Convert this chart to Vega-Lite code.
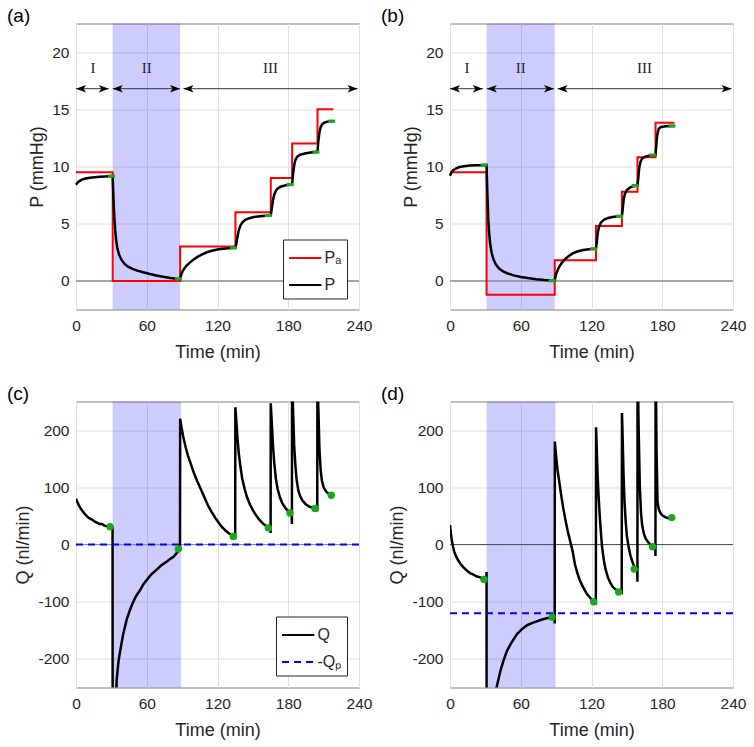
{
 "$schema": "https://vega.github.io/schema/vega-lite/v6.json",
 "background": "white",
 "padding": {"left": 6, "top": 6.5, "right": 2, "bottom": 2},
 "columns": 2,
 "spacing": {"row": 92, "column": 91},
 "bounds": "flush",
 "resolve": {"scale": {"color": "independent", "strokeDash": "independent", "shape": "independent"}, "legend": {"color": "independent", "strokeDash": "independent"}},
 "config": {
  "font": "Liberation Sans",
  "view": {"stroke": "#808080", "strokeWidth": 1},
  "axis": {"domain": false, "ticks": false, "grid": true, "gridColor": "#e0e0e0", "gridWidth": 1, "labelFont": "Liberation Sans", "labelFontSize": 15.5, "labelColor": "#262626", "labelFlush": false, "labelOverlap": false, "titleFont": "Liberation Sans", "titleFontSize": 18, "titleFontWeight": "normal", "titleColor": "#262626"},
  "axisX": {"labelPadding": 9, "titlePadding": 9},
  "axisY": {"labelPadding": 7, "titlePadding": 5},
  "title": {"anchor": "start", "frame": "group", "dx": -69, "offset": -2.5, "fontSize": 19, "fontWeight": "normal", "font": "Liberation Sans", "color": "#000000"},
  "legend": {"orient": "none", "title": null, "symbolType": "M-1,0L1.6,0", "symbolSize": 620, "symbolStrokeWidth": 2, "labelFontSize": 16, "labelFont": "Liberation Sans", "labelColor": "#262626", "strokeColor": "#262626", "fillColor": "white", "padding": 5, "rowPadding": 5, "labelOffset": 9.5}
 },
 "datasets": {
  "paA": [{"t":0,"v":9.5},{"t":31.1,"v":0},{"t":88.3,"v":3},{"t":135.2,"v":6},{"t":165.2,"v":9},{"t":183.3,"v":12},{"t":204.8,"v":15},{"t":218.3,"v":15}],
  "pA": [{"t":0,"v":8.4},{"t":1,"v":8.55},{"t":2.5,"v":8.7},{"t":5,"v":8.85},{"t":8,"v":8.95},{"t":12,"v":9.02},{"t":16,"v":9.06},{"t":20,"v":9.1},{"t":25,"v":9.13},{"t":30,"v":9.16},{"t":31.1,"v":9.15},
   {"t":31.5,"v":8.0},{"t":32,"v":6.6},{"t":32.6,"v":5.4},{"t":33.2,"v":4.5},{"t":34,"v":3.6},{"t":35,"v":2.9},{"t":36.5,"v":2.3},{"t":38.5,"v":1.85},{"t":41,"v":1.5},{"t":44,"v":1.25},{"t":48,"v":1.05},{"t":52,"v":0.9},{"t":57,"v":0.75},{"t":62,"v":0.62},{"t":68,"v":0.48},{"t":74,"v":0.36},{"t":80,"v":0.26},{"t":85,"v":0.19},{"t":88.3,"v":0.15},
   {"t":88.8,"v":0.4},{"t":89.5,"v":0.62},{"t":90.5,"v":0.85},{"t":92,"v":1.1},{"t":94,"v":1.35},{"t":96.5,"v":1.6},{"t":99.5,"v":1.85},{"t":103,"v":2.1},{"t":107,"v":2.32},{"t":111,"v":2.5},{"t":116,"v":2.65},{"t":121,"v":2.76},{"t":127,"v":2.84},{"t":132,"v":2.88},{"t":135.2,"v":2.9},
   {"t":136,"v":3.3},{"t":137,"v":3.9},{"t":138,"v":4.4},{"t":139.5,"v":4.85},{"t":141,"v":5.1},{"t":143.5,"v":5.33},{"t":147,"v":5.48},{"t":151,"v":5.58},{"t":156,"v":5.65},{"t":161,"v":5.7},{"t":165.2,"v":5.73},
   {"t":166,"v":6.3},{"t":167,"v":7.0},{"t":168,"v":7.5},{"t":169.5,"v":7.88},{"t":171,"v":8.07},{"t":174,"v":8.25},{"t":178,"v":8.36},{"t":183.3,"v":8.43},
   {"t":184,"v":9.3},{"t":185,"v":10.1},{"t":186,"v":10.55},{"t":187.5,"v":10.85},{"t":190,"v":11.03},{"t":194,"v":11.14},{"t":199,"v":11.22},{"t":204.8,"v":11.28},
   {"t":205.5,"v":12.2},{"t":206.5,"v":13.0},{"t":207.5,"v":13.45},{"t":209,"v":13.72},{"t":211,"v":13.86},{"t":214,"v":13.93},{"t":218,"v":13.97}],
  "gA": [{"t":30.2,"v":9.16},{"t":86.8,"v":0.17},{"t":133.4,"v":2.89},{"t":163.1,"v":5.72},{"t":181.5,"v":8.42},{"t":203.5,"v":11.27},{"t":216.8,"v":13.96}],
  "paB": [{"t":0,"v":9.5},{"t":31,"v":-1.2},{"t":88.8,"v":1.8},{"t":123.8,"v":4.8},{"t":145.8,"v":7.8},{"t":159,"v":10.8},{"t":174.3,"v":13.83},{"t":190.4,"v":13.83}],
  "pB": [{"t":0,"v":9.2},{"t":1,"v":9.45},{"t":2.5,"v":9.65},{"t":5,"v":9.82},{"t":8,"v":9.95},{"t":12,"v":10.03},{"t":17,"v":10.08},{"t":22,"v":10.1},{"t":27,"v":10.12},{"t":31,"v":10.13},
   {"t":31.3,"v":9.0},{"t":31.8,"v":7.3},{"t":32.4,"v":5.6},{"t":33.1,"v":4.3},{"t":34,"v":3.3},{"t":35.2,"v":2.5},{"t":36.8,"v":1.9},{"t":38.8,"v":1.45},{"t":41.5,"v":1.1},{"t":45,"v":0.83},{"t":49,"v":0.65},{"t":54,"v":0.48},{"t":60,"v":0.35},{"t":66,"v":0.25},{"t":73,"v":0.15},{"t":80,"v":0.08},{"t":88.8,"v":0.02},
   {"t":89.3,"v":0.3},{"t":90.2,"v":0.65},{"t":91.5,"v":1.0},{"t":93,"v":1.3},{"t":95,"v":1.6},{"t":97.5,"v":1.9},{"t":100.5,"v":2.15},{"t":104,"v":2.4},{"t":108,"v":2.57},{"t":113,"v":2.7},{"t":118,"v":2.77},{"t":123.8,"v":2.82},
   {"t":124.5,"v":3.4},{"t":125.3,"v":4.2},{"t":126.3,"v":4.7},{"t":128,"v":5.1},{"t":130.5,"v":5.35},{"t":134,"v":5.5},{"t":139,"v":5.6},{"t":145.8,"v":5.66},
   {"t":146.5,"v":6.3},{"t":147.3,"v":7.1},{"t":148.3,"v":7.6},{"t":150,"v":7.95},{"t":152.5,"v":8.15},{"t":155.5,"v":8.28},{"t":159,"v":8.33},
   {"t":159.7,"v":9.0},{"t":160.5,"v":9.9},{"t":161.5,"v":10.4},{"t":163,"v":10.7},{"t":166,"v":10.88},{"t":170,"v":10.97},{"t":174.3,"v":11.0},
   {"t":175,"v":11.9},{"t":175.8,"v":12.8},{"t":177,"v":13.3},{"t":179,"v":13.45},{"t":183,"v":13.52},{"t":190.4,"v":13.55}],
  "gB": [{"t":28.8,"v":10.13},{"t":86.6,"v":0.02},{"t":121.8,"v":2.8},{"t":143.8,"v":5.65},{"t":157.1,"v":8.33},{"t":172,"v":11.0},{"t":188.2,"v":13.55}],
  "qC": [{"t":0,"v":80},{"t":1,"v":75},{"t":2.5,"v":68},{"t":4,"v":63},{"t":6,"v":57},{"t":8,"v":52},{"t":10,"v":48},{"t":12,"v":45},{"t":14,"v":43},{"t":16,"v":40},{"t":18,"v":38},{"t":20,"v":36},{"t":22,"v":36},{"t":24,"v":33},{"t":26,"v":32},{"t":28,"v":31},{"t":31,"v":30},
   {"t":31.15,"v":-700},{"t":33,"v":-330},{"t":34.5,"v":-237},{"t":36,"v":-205},{"t":37.3,"v":-188},{"t":40.1,"v":-156},{"t":43,"v":-131},{"t":46,"v":-113},{"t":48.6,"v":-100},{"t":51,"v":-90},{"t":54.3,"v":-80},{"t":57,"v":-70},{"t":60,"v":-62},{"t":64,"v":-52},{"t":68.4,"v":-44},{"t":72,"v":-37},{"t":76.9,"v":-30},{"t":80,"v":-25},{"t":82.5,"v":-22},{"t":85,"v":-16},{"t":88.2,"v":-8},
   {"t":88.35,"v":220},{"t":89.5,"v":205},{"t":91,"v":188},{"t":93,"v":170},{"t":95,"v":155},{"t":97,"v":143},{"t":100,"v":125},{"t":103,"v":110},{"t":106,"v":96},{"t":109,"v":82},{"t":112,"v":68},{"t":115,"v":57},{"t":118,"v":47},{"t":121,"v":38},{"t":124,"v":30},{"t":127,"v":24},{"t":130,"v":19},{"t":133,"v":15},{"t":135,"v":13},
   {"t":135.15,"v":240},{"t":136,"v":215},{"t":137,"v":185},{"t":138,"v":160},{"t":139.5,"v":135},{"t":141,"v":115},{"t":143,"v":97},{"t":145,"v":83},{"t":147.5,"v":70},{"t":150,"v":60},{"t":153,"v":50},{"t":156,"v":42},{"t":159,"v":36},{"t":162,"v":31},{"t":164.9,"v":28},{"t":165.05,"v":20},
   {"t":165.15,"v":247},{"t":166,"v":215},{"t":167,"v":175},{"t":168,"v":145},{"t":169.5,"v":115},{"t":171,"v":97},{"t":173,"v":82},{"t":175,"v":72},{"t":177.5,"v":64},{"t":180,"v":58},{"t":182.8,"v":55},{"t":183.1,"v":36},
   {"t":183.25,"v":330},{"t":184,"v":240},{"t":185,"v":175},{"t":186,"v":140},{"t":187,"v":115},{"t":188.5,"v":95},{"t":190,"v":85},{"t":192,"v":77},{"t":195,"v":70},{"t":198,"v":66},{"t":201,"v":64},{"t":204,"v":62},{"t":204.6,"v":58},
   {"t":204.75,"v":330},{"t":205.5,"v":240},{"t":206.5,"v":165},{"t":207.5,"v":130},{"t":208.5,"v":112},{"t":210,"v":100},{"t":212,"v":93},{"t":214,"v":89},{"t":216.8,"v":86}],
  "gC": [{"t":28.8,"v":31},{"t":86.8,"v":-8},{"t":133.4,"v":14},{"t":163.1,"v":29},{"t":181.5,"v":55},{"t":202.7,"v":63},{"t":216.5,"v":86}],
  "qD": [{"t":0,"v":34},{"t":0.7,"v":20},{"t":1.5,"v":8},{"t":2.5,"v":-3},{"t":3.5,"v":-12},{"t":5,"v":-20},{"t":7,"v":-28},{"t":9,"v":-34},{"t":11,"v":-39},{"t":13,"v":-43},{"t":15,"v":-47},{"t":17,"v":-50},{"t":19,"v":-52},{"t":21,"v":-54},{"t":23,"v":-56},{"t":25,"v":-57},{"t":27,"v":-59},{"t":29,"v":-61},{"t":30.9,"v":-62},
   {"t":31,"v":-48},{"t":31.1,"v":-700},{"t":35,"v":-400},{"t":39.5,"v":-250},{"t":42.9,"v":-220},{"t":45.5,"v":-202},{"t":48.5,"v":-185},{"t":52,"v":-172},{"t":57,"v":-156},{"t":61,"v":-148},{"t":65.4,"v":-141},{"t":70,"v":-137},{"t":76.7,"v":-132},{"t":82,"v":-129},{"t":86.6,"v":-127},{"t":88.7,"v":-126},
   {"t":88.8,"v":-138},{"t":88.9,"v":180},{"t":90,"v":155},{"t":91.2,"v":130},{"t":92.5,"v":112},{"t":94,"v":90},{"t":96,"v":64},{"t":98,"v":42},{"t":100,"v":22},{"t":102,"v":5},{"t":104,"v":-12},{"t":106,"v":-35},{"t":108,"v":-50},{"t":110,"v":-62},{"t":112,"v":-71},{"t":114,"v":-79},{"t":116,"v":-86},{"t":118,"v":-91},{"t":120,"v":-96},{"t":122,"v":-100},{"t":123.7,"v":-102},
   {"t":123.85,"v":205},{"t":124.5,"v":165},{"t":125.2,"v":120},{"t":126,"v":85},{"t":127,"v":50},{"t":128,"v":20},{"t":129,"v":-5},{"t":130.5,"v":-28},{"t":132,"v":-44},{"t":134,"v":-58},{"t":136,"v":-67},{"t":138,"v":-74},{"t":140,"v":-78},{"t":142,"v":-81},{"t":145.6,"v":-84},
   {"t":145.85,"v":230},{"t":146.5,"v":180},{"t":147.2,"v":120},{"t":148,"v":75},{"t":149,"v":40},{"t":150,"v":15},{"t":151.5,"v":-5},{"t":153,"v":-19},{"t":154.5,"v":-29},{"t":156.5,"v":-40},{"t":158.8,"v":-45},
   {"t":158.95,"v":-65},{"t":159.05,"v":330},{"t":160,"v":200},{"t":161,"v":100},{"t":162,"v":55},{"t":163,"v":33},{"t":164.5,"v":18},{"t":166,"v":10},{"t":168,"v":4},{"t":170,"v":0},{"t":172,"v":-4},{"t":174.15,"v":-6},
   {"t":174.25,"v":-20},{"t":174.35,"v":330},{"t":175.2,"v":160},{"t":176,"v":75},{"t":177,"v":62},{"t":178.5,"v":55},{"t":180,"v":51},{"t":182.5,"v":48},{"t":185,"v":46},{"t":188,"v":47},{"t":190.2,"v":48}],
  "gD": [{"t":28.8,"v":-61},{"t":86.6,"v":-127},{"t":121.8,"v":-100},{"t":143,"v":-83},{"t":156.2,"v":-43},{"t":171.7,"v":-4},{"t":188,"v":47}],
  "arrows": [{"t":0,"t2":27.8,"v":16.8},{"t":31.2,"t2":88.2,"v":16.8},{"t":91.2,"t2":238.8,"v":16.8}],
  "heads": [{"t":0,"v":16.8,"d":"L"},{"t":27.8,"v":16.8,"d":"R"},{"t":31.2,"v":16.8,"d":"L"},{"t":88.2,"v":16.8,"d":"R"},{"t":91.2,"v":16.8,"d":"L"},{"t":238.8,"v":16.8,"d":"R"}],
  "labs": [{"t":14.5,"v":18.6,"lab":"I"},{"t":60,"v":18.6,"lab":"II"},{"t":165,"v":18.6,"lab":"III"}]
 },
 "concat": [
  {
   "width": 283, "height": 286,
   "title": {"text": "(a)"},
   "layer": [
    {"data": {"values": [{"t": 31.1, "t2": 88.3}]}, "mark": {"type": "rect", "color": "#0000ff", "opacity": 0.2},
     "encoding": {"x": {"field": "t", "type": "quantitative", "scale": {"domain": [0, 240], "nice": false}, "axis": {"values": [0,30,60,90,120,150,180,210,240], "labelExpr": "datum.value % 60 == 0 ? datum.label : ''", "title": "Time (min)"}}, "x2": {"field": "t2"}}},
    {"data": {"values": [{}]}, "mark": {"type": "rule", "color": "#8f8f8f", "strokeWidth": 1.5},
     "encoding": {"y": {"datum": 0, "type": "quantitative", "scale": {"domain": [-2.5, 22.5], "nice": false}, "axis": {"values": [0,5,10,15,20], "title": "P (mmHg)"}}}},
    {"data": {"name": "paA"}, "mark": {"type": "line", "interpolate": "step-after", "strokeWidth": 2},
     "encoding": {"x": {"field": "t", "type": "quantitative", "scale": {"domain": [0, 240], "nice": false}}, "y": {"field": "v", "type": "quantitative", "scale": {"domain": [-2.5, 22.5], "nice": false}},
      "color": {"datum": "Pₐ", "type": "nominal", "scale": {"domain": ["Pₐ", "P"], "range": ["#ff0000", "#000000"]}, "legend": {"legendX": 207, "legendY": 216}}}},
    {"data": {"name": "pA"}, "mark": {"type": "line", "strokeWidth": 2.5},
     "encoding": {"x": {"field": "t", "type": "quantitative", "scale": {"domain": [0, 240], "nice": false}}, "y": {"field": "v", "type": "quantitative", "scale": {"domain": [-2.5, 22.5], "nice": false}},
      "color": {"datum": "P", "type": "nominal"}}},
    {"data": {"name": "gA"}, "mark": {"type": "point", "filled": true, "opacity": 1, "color": "#1ca81c", "size": 49, "shape": "M-1,-0.45L1,-0.45L1,0.45L-1,0.45Z"},
     "encoding": {"x": {"field": "t", "type": "quantitative", "scale": {"domain": [0, 240], "nice": false}}, "y": {"field": "v", "type": "quantitative", "scale": {"domain": [-2.5, 22.5], "nice": false}}}},
    {"data": {"name": "arrows"}, "mark": {"type": "rule", "color": "#333333", "strokeWidth": 1},
     "encoding": {"x": {"field": "t", "type": "quantitative", "scale": {"domain": [0, 240], "nice": false}}, "x2": {"field": "t2"}, "y": {"field": "v", "type": "quantitative", "scale": {"domain": [-2.5, 22.5], "nice": false}}}},
    {"data": {"name": "heads"}, "mark": {"type": "point", "filled": true, "opacity": 1, "color": "#000000", "size": 400},
     "encoding": {"x": {"field": "t", "type": "quantitative", "scale": {"domain": [0, 240], "nice": false}}, "y": {"field": "v", "type": "quantitative", "scale": {"domain": [-2.5, 22.5], "nice": false}},
      "shape": {"field": "d", "type": "nominal", "scale": {"domain": ["L", "R"], "range": ["M0,0L1,-0.38L0.75,0L1,0.38Z", "M0,0L-1,-0.38L-0.75,0L-1,0.38Z"]}, "legend": null}}},
    {"data": {"name": "labs"}, "mark": {"type": "text", "font": "Liberation Serif", "fontSize": 15, "color": "#262626", "baseline": "middle", "align": "center"},
     "encoding": {"x": {"field": "t", "type": "quantitative", "scale": {"domain": [0, 240], "nice": false}}, "y": {"field": "v", "type": "quantitative", "scale": {"domain": [-2.5, 22.5], "nice": false}}, "text": {"field": "lab"}}}
   ]
  },
  {
   "width": 283, "height": 286,
   "title": {"text": "(b)"},
   "layer": [
    {"data": {"values": [{"t": 31, "t2": 88.8}]}, "mark": {"type": "rect", "color": "#0000ff", "opacity": 0.2},
     "encoding": {"x": {"field": "t", "type": "quantitative", "scale": {"domain": [0, 240], "nice": false}, "axis": {"values": [0,30,60,90,120,150,180,210,240], "labelExpr": "datum.value % 60 == 0 ? datum.label : ''", "title": "Time (min)"}}, "x2": {"field": "t2"}}},
    {"data": {"values": [{}]}, "mark": {"type": "rule", "color": "#8f8f8f", "strokeWidth": 1.5},
     "encoding": {"y": {"datum": 0, "type": "quantitative", "scale": {"domain": [-2.5, 22.5], "nice": false}, "axis": {"values": [0,5,10,15,20], "title": "P (mmHg)"}}}},
    {"data": {"name": "paB"}, "mark": {"type": "line", "interpolate": "step-after", "strokeWidth": 2, "color": "#ff0000"},
     "encoding": {"x": {"field": "t", "type": "quantitative", "scale": {"domain": [0, 240], "nice": false}}, "y": {"field": "v", "type": "quantitative", "scale": {"domain": [-2.5, 22.5], "nice": false}}}},
    {"data": {"name": "pB"}, "mark": {"type": "line", "strokeWidth": 2.5, "color": "#000000"},
     "encoding": {"x": {"field": "t", "type": "quantitative", "scale": {"domain": [0, 240], "nice": false}}, "y": {"field": "v", "type": "quantitative", "scale": {"domain": [-2.5, 22.5], "nice": false}}}},
    {"data": {"name": "gB"}, "mark": {"type": "point", "filled": true, "opacity": 1, "color": "#1ca81c", "size": 49, "shape": "M-1,-0.45L1,-0.45L1,0.45L-1,0.45Z"},
     "encoding": {"x": {"field": "t", "type": "quantitative", "scale": {"domain": [0, 240], "nice": false}}, "y": {"field": "v", "type": "quantitative", "scale": {"domain": [-2.5, 22.5], "nice": false}}}},
    {"data": {"name": "arrows"}, "mark": {"type": "rule", "color": "#333333", "strokeWidth": 1},
     "encoding": {"x": {"field": "t", "type": "quantitative", "scale": {"domain": [0, 240], "nice": false}}, "x2": {"field": "t2"}, "y": {"field": "v", "type": "quantitative", "scale": {"domain": [-2.5, 22.5], "nice": false}}}},
    {"data": {"name": "heads"}, "mark": {"type": "point", "filled": true, "opacity": 1, "color": "#000000", "size": 400},
     "encoding": {"x": {"field": "t", "type": "quantitative", "scale": {"domain": [0, 240], "nice": false}}, "y": {"field": "v", "type": "quantitative", "scale": {"domain": [-2.5, 22.5], "nice": false}},
      "shape": {"field": "d", "type": "nominal", "scale": {"domain": ["L", "R"], "range": ["M0,0L1,-0.38L0.75,0L1,0.38Z", "M0,0L-1,-0.38L-0.75,0L-1,0.38Z"]}, "legend": null}}},
    {"data": {"name": "labs"}, "mark": {"type": "text", "font": "Liberation Serif", "fontSize": 15, "color": "#262626", "baseline": "middle", "align": "center"},
     "encoding": {"x": {"field": "t", "type": "quantitative", "scale": {"domain": [0, 240], "nice": false}}, "y": {"field": "v", "type": "quantitative", "scale": {"domain": [-2.5, 22.5], "nice": false}}, "text": {"field": "lab"}}}
   ]
  },
  {
   "width": 283, "height": 286,
   "title": {"text": "(c)"},
   "layer": [
    {"data": {"values": [{"t": 31.1, "t2": 89}]}, "mark": {"type": "rect", "color": "#0000ff", "opacity": 0.2},
     "encoding": {"x": {"field": "t", "type": "quantitative", "scale": {"domain": [0, 240], "nice": false}, "axis": {"values": [0,30,60,90,120,150,180,210,240], "labelExpr": "datum.value % 60 == 0 ? datum.label : ''", "title": "Time (min)"}}, "x2": {"field": "t2"}}},
    {"data": {"values": [{}]}, "mark": {"type": "rule", "color": "#8f8f8f", "strokeWidth": 1},
     "encoding": {"y": {"datum": 0, "type": "quantitative", "scale": {"domain": [-250, 250], "nice": false}, "axis": {"values": [-200,-100,0,100,200], "labelExpr": "'' + datum.value", "title": "Q (nl/min)"}}}},
    {"data": {"name": "qC"}, "mark": {"type": "line", "strokeWidth": 2.5, "clip": true},
     "encoding": {"x": {"field": "t", "type": "quantitative", "scale": {"domain": [0, 240], "nice": false}}, "y": {"field": "v", "type": "quantitative", "scale": {"domain": [-250, 250], "nice": false}},
      "color": {"datum": "Q", "type": "nominal", "scale": {"domain": ["Q", "-Qₚ"], "range": ["#000000", "#0000ff"]}, "legend": {"legendX": 200, "legendY": 215}},
      "strokeDash": {"datum": "Q", "type": "nominal", "scale": {"domain": ["Q", "-Qₚ"], "range": [[1, 0], [7, 5]]}, "legend": {"legendX": 200, "legendY": 215}}}},
    {"data": {"values": [{"t": 0, "v": 0}, {"t": 240, "v": 0}]}, "mark": {"type": "line", "strokeWidth": 2, "clip": true},
     "encoding": {"x": {"field": "t", "type": "quantitative", "scale": {"domain": [0, 240], "nice": false}}, "y": {"field": "v", "type": "quantitative", "scale": {"domain": [-250, 250], "nice": false}},
      "color": {"datum": "-Qₚ", "type": "nominal"}, "strokeDash": {"datum": "-Qₚ", "type": "nominal"}}},
    {"data": {"name": "gC"}, "mark": {"type": "point", "filled": true, "opacity": 1, "color": "#1ca81c", "size": 55, "shape": "circle"},
     "encoding": {"x": {"field": "t", "type": "quantitative", "scale": {"domain": [0, 240], "nice": false}}, "y": {"field": "v", "type": "quantitative", "scale": {"domain": [-250, 250], "nice": false}}}}
   ]
  },
  {
   "width": 283, "height": 286,
   "title": {"text": "(d)"},
   "layer": [
    {"data": {"values": [{"t": 31, "t2": 89.4}]}, "mark": {"type": "rect", "color": "#0000ff", "opacity": 0.2},
     "encoding": {"x": {"field": "t", "type": "quantitative", "scale": {"domain": [0, 240], "nice": false}, "axis": {"values": [0,30,60,90,120,150,180,210,240], "labelExpr": "datum.value % 60 == 0 ? datum.label : ''", "title": "Time (min)"}}, "x2": {"field": "t2"}}},
    {"data": {"values": [{}]}, "mark": {"type": "rule", "color": "#555555", "strokeWidth": 1},
     "encoding": {"y": {"datum": 0, "type": "quantitative", "scale": {"domain": [-250, 250], "nice": false}, "axis": {"values": [-200,-100,0,100,200], "labelExpr": "'' + datum.value", "title": "Q (nl/min)"}}}},
    {"data": {"name": "qD"}, "mark": {"type": "line", "strokeWidth": 2.5, "clip": true, "color": "#000000"},
     "encoding": {"x": {"field": "t", "type": "quantitative", "scale": {"domain": [0, 240], "nice": false}}, "y": {"field": "v", "type": "quantitative", "scale": {"domain": [-250, 250], "nice": false}}}},
    {"data": {"values": [{"t": 0, "v": -120}, {"t": 240, "v": -120}]}, "mark": {"type": "line", "strokeWidth": 2, "clip": true, "color": "#0000ff", "strokeDash": [7, 5]},
     "encoding": {"x": {"field": "t", "type": "quantitative", "scale": {"domain": [0, 240], "nice": false}}, "y": {"field": "v", "type": "quantitative", "scale": {"domain": [-250, 250], "nice": false}}}},
    {"data": {"name": "gD"}, "mark": {"type": "point", "filled": true, "opacity": 1, "color": "#1ca81c", "size": 55, "shape": "circle"},
     "encoding": {"x": {"field": "t", "type": "quantitative", "scale": {"domain": [0, 240], "nice": false}}, "y": {"field": "v", "type": "quantitative", "scale": {"domain": [-250, 250], "nice": false}}}}
   ]
  }
 ]
}
